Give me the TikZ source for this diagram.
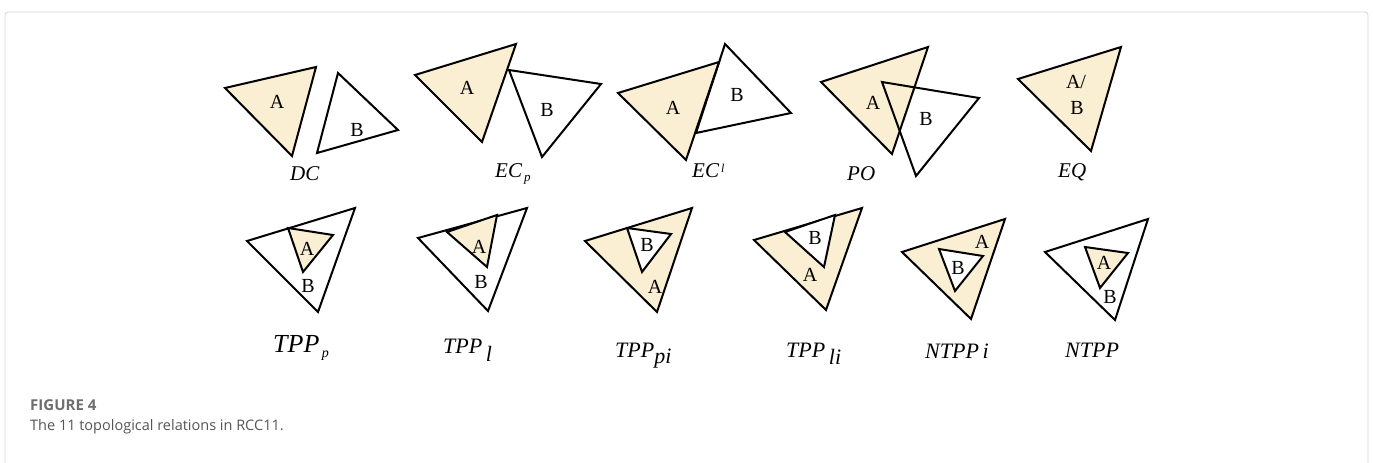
\documentclass[tikz,border=0pt]{standalone}
\usepackage{fontspec}
\setmainfont{Liberation Serif}
\newfontfamily\capfont{Open Sans}
\begin{document}
\begin{tikzpicture}[x=1pt,y=-1pt,
  tri/.style={draw=black,line width=2pt,line join=miter},
  fillA/.style={fill=regionfill},
  lbl/.style={inner sep=0pt,font=\fontsize{20}{20}\selectfont},
  rel/.style={inner sep=0pt,anchor=base west,font=\fontsize{21}{21}\selectfont\itshape},
  relb/.style={rel,font=\fontsize{22}{22}\selectfont\itshape},
  frame/.style={draw=framegray,line width=0.8pt}]
\definecolor{regionfill}{HTML}{FBEFD3}
\definecolor{framegray}{HTML}{D4D4D4}
\definecolor{capgray}{HTML}{555555}
\useasboundingbox (0,0) rectangle (1373,463);
% panel frame
\draw[frame,rounded corners=3pt] (5,470) -- (5,12) -- (1368,12) -- (1368,470);

% ---------- DC ----------
\coordinate (dcA1) at (225,88); \coordinate (dcA2) at (316,67); \coordinate (dcA3) at (292,156);
\coordinate (dcB1) at (338,73); \coordinate (dcB2) at (398,130); \coordinate (dcB3) at (317,153);
\draw[tri,fillA] (dcA1) -- (dcA2) -- (dcA3) -- cycle;
\draw[tri] (dcB1) -- (dcB2) -- (dcB3) -- cycle;
\node[lbl] (dca) at (277,102) {A};
\node[lbl] (dcb) at (357,130) {B};
\node[rel] (dcn) at (290,180) {DC};

% ---------- EC_p ----------
\coordinate (ecpA1) at (415,75); \coordinate (ecpA2) at (516,44); \coordinate (ecpA3) at (482,142);
\coordinate (ecpB1) at (509,70); \coordinate (ecpB2) at (601,84); \coordinate (ecpB3) at (542,157);
\draw[tri,fillA] (ecpA1) -- (ecpA2) -- (ecpA3) -- cycle;
\draw[tri] (ecpB1) -- (ecpB2) -- (ecpB3) -- cycle;
\node[lbl] (ecpa) at (467,88) {A};
\node[lbl] (ecpb) at (547,110) {B};
\node[rel] (ecpn) at (495,177) {EC\raisebox{-4pt}{\fontsize{13}{13}\selectfont\,p}};

% ---------- EC^l ----------
\coordinate (eclA1) at (618,93); \coordinate (eclA2) at (719,62); \coordinate (eclA3) at (686,160);
\coordinate (eclB1) at (725,44); \coordinate (eclB2) at (791,113); \coordinate (eclB3) at (696,133);
\draw[tri,fillA] (eclA1) -- (eclA2) -- (eclA3) -- cycle;
\draw[tri] (eclB1) -- (eclB2) -- (eclB3) -- cycle;
\node[lbl] (ecla) at (673,108) {A};
\node[lbl] (eclb) at (737,95) {B};
\node[rel] (ecln) at (692,177) {EC\raisebox{5pt}{\fontsize{12}{12}\selectfont\,l}};

% ---------- PO ----------
\coordinate (poA1) at (821,82); \coordinate (poA2) at (928,47); \coordinate (poA3) at (892,154);
\coordinate (poB1) at (882,82); \coordinate (poB2) at (979,98); \coordinate (poB3) at (916,176);
\draw[tri,fillA] (poA1) -- (poA2) -- (poA3) -- cycle;
\draw[tri] (poB1) -- (poB2) -- (poB3) -- cycle;
\node[lbl] (poa) at (873,103) {A};
\node[lbl] (pob) at (926,119) {B};
\node[rel] (pon) at (847,180) {PO};

% ---------- EQ ----------
\coordinate (eq1) at (1018,79); \coordinate (eq2) at (1121,47); \coordinate (eq3) at (1091,151);
\draw[tri,fillA] (eq1) -- (eq2) -- (eq3) -- cycle;
\node[lbl] (eqa) at (1076,82) {A/};
\node[lbl] (eqb) at (1077,108) {B};
\node[rel] (eqn) at (1058,177) {EQ};

% ---------- TPP_p ----------
\coordinate (tpO1) at (247,241); \coordinate (tpO2) at (355,208); \coordinate (tpO3) at (318,312);
\coordinate (tpI1) at (288,228); \coordinate (tpI2) at (333,235); \coordinate (tpI3) at (303,272);
\draw[tri] (tpO1) -- (tpO2) -- (tpO3) -- cycle;
\draw[tri,fillA] (tpI1) -- (tpI2) -- (tpI3) -- cycle;
\node[lbl] (tpa) at (307,249) {A};
\node[lbl] (tpb) at (308,286) {B};
\node[rel,font=\fontsize{26}{26}\selectfont\itshape] (tpn) at (273,352) {TPP\raisebox{-5pt}{\fontsize{14}{14}\selectfont\,p}};

% ---------- TPP_l ----------
\coordinate (tlO1) at (418,238); \coordinate (tlO2) at (527,208); \coordinate (tlO3) at (488,311);
\coordinate (tlI1) at (447,232); \coordinate (tlI2) at (497,215); \coordinate (tlI3) at (487,267);
\draw[tri] (tlO1) -- (tlO2) -- (tlO3) -- cycle;
\draw[tri,fillA] (tlI1) -- (tlI2) -- (tlI3) -- cycle;
\node[lbl] (tla) at (479,247) {A};
\node[lbl] (tlb) at (481,282) {B};
\node[relb] (tln) at (443,353) {TPP\raisebox{-8pt}{\,l}};

% ---------- TPP_pi ----------
\coordinate (tpiO1) at (585,241); \coordinate (tpiO2) at (692,208); \coordinate (tpiO3) at (657,312);
\coordinate (tpiI1) at (627,228); \coordinate (tpiI2) at (671,234); \coordinate (tpiI3) at (642,272);
\draw[tri,fillA] (tpiO1) -- (tpiO2) -- (tpiO3) -- cycle;
\draw[tri,fill=white] (tpiI1) -- (tpiI2) -- (tpiI3) -- cycle;
\node[lbl] (tpib) at (647,245) {B};
\node[lbl] (tpia) at (655,287) {A};
\node[relb] (tpin) at (615,357) {TPP\raisebox{-6pt}{pi}};

% ---------- TPP_li ----------
\coordinate (tliO1) at (754,240); \coordinate (tliO2) at (862,208); \coordinate (tliO3) at (826,310);
\coordinate (tliI1) at (785,232); \coordinate (tliI2) at (835,215); \coordinate (tliI3) at (824,267);
\draw[tri,fillA] (tliO1) -- (tliO2) -- (tliO3) -- cycle;
\draw[tri,fill=white] (tliI1) -- (tliI2) -- (tliI3) -- cycle;
\node[lbl] (tlib) at (815,238) {B};
\node[lbl] (tlia) at (810,275) {A};
\node[relb] (tlin) at (786,357) {TPP\raisebox{-7pt}{\,li}};

% ---------- NTPPi ----------
\coordinate (niO1) at (902,252); \coordinate (niO2) at (1005,219); \coordinate (niO3) at (971,319);
\coordinate (niI1) at (939,249); \coordinate (niI2) at (983,256); \coordinate (niI3) at (955,291);
\draw[tri,fillA] (niO1) -- (niO2) -- (niO3) -- cycle;
\draw[tri,fill=white] (niI1) -- (niI2) -- (niI3) -- cycle;
\node[lbl] (nib) at (958,268) {B};
\node[lbl] (nia) at (982,242) {A};
\node[relb] (nin) at (925,358) {NTPP\,i};

% ---------- NTPP ----------
\coordinate (nO1) at (1045,252); \coordinate (nO2) at (1148,219); \coordinate (nO3) at (1115,320);
\coordinate (nI1) at (1085,247); \coordinate (nI2) at (1128,253); \coordinate (nI3) at (1100,288);
\draw[tri] (nO1) -- (nO2) -- (nO3) -- cycle;
\draw[tri,fillA] (nI1) -- (nI2) -- (nI3) -- cycle;
\node[lbl] (na) at (1104,263) {A};
\node[lbl] (nb) at (1110,297) {B};
\node[relb] (nn) at (1065,357) {NTPP};

% ---------- caption ----------
\node[inner sep=0pt,anchor=base west,text=capgray!85,font=\capfont\fontsize{15}{15}\selectfont\bfseries] (capt) at (30,410) {FIGURE 4};
\node[inner sep=0pt,anchor=base west,text=capgray,font=\capfont\fontsize{14.5}{15}\selectfont] (capb) at (30,430) {The 11 topological relations in RCC11.};
\end{tikzpicture}
\end{document}
